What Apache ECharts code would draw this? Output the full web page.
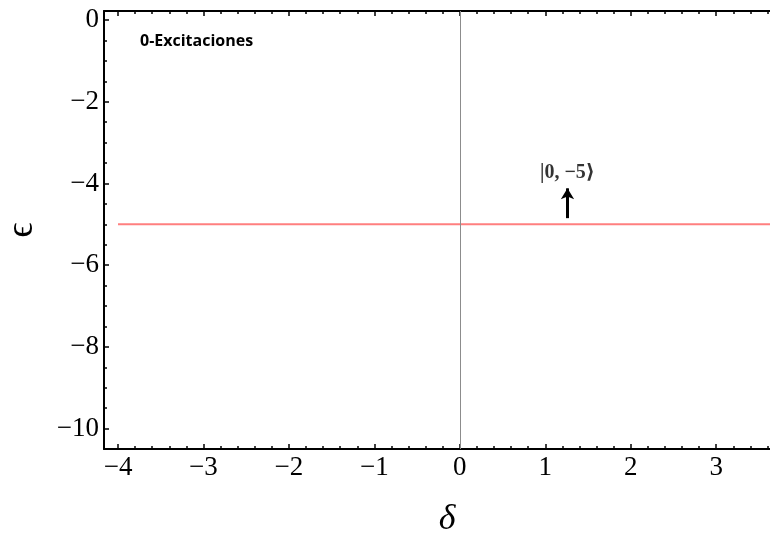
<!DOCTYPE html>
<html>
<head>
<meta charset="utf-8">
<script src="https://cdn.jsdelivr.net/npm/echarts@6/dist/echarts.min.js"></script>
<style>
html,body{margin:0;padding:0;background:#fff;}
#main{width:770px;height:533px;}
</style>
</head>
<body>
<div id="main"></div>
<script>
// ---- data ----
const deltaValues = [-4, 4];          // plot range of the level line
const energyValues = [-5, -5];        // ε for the |0,-5> state
const xMajorTicks = [-4, -3, -2, -1, 0, 1, 2, 3];
const yMajorTicks = [-10, -8, -6, -4, -2, 0];
const xMinorStep = 0.2;
const yMinorStep = 0.5;
const stateLabels = ['|0, −5⟩'];
const stateDelta = [1.26];
const arrowStart = [-4.85];
const arrowEnd = [-4.12];
const labelEnergy = [-3.74];
const xMin = -4.164, xMax = 3.63;
const yMin = -10.5, yMax = 0.22;

function range(a, b, step) {
  const out = [];
  const n = Math.round((b - a) / step);
  for (let i = 0; i <= n; i++) out.push(+(a + i * step).toFixed(4));
  return out;
}
const xMinorTicks = range(-4.2, 3.6, xMinorStep).filter(v => v > xMin && v < xMax);
const yMinorTicks = range(-10.5, 0, yMinorStep).filter(v => v > yMin && v < yMax);

const fmt = v => (v < 0 ? '−' + Math.abs(v) : String(v));
const serif = '"Liberation Serif", "DejaVu Serif", serif';

function xAx(pos, ticks, len, withLabels, showLine) {
  return {
    type: 'value', position: pos, min: xMin, max: xMax,
    splitLine: {show: false},
    axisLine: {show: showLine, onZero: false, lineStyle: {color: '#000', width: 2}},
    axisTick: {show: true, inside: true, length: len, customValues: ticks,
               lineStyle: {color: '#000', width: 1.5}},
    axisLabel: withLabels ? {show: true, customValues: xMajorTicks, formatter: fmt,
               fontFamily: serif, fontSize: 27, color: '#000', margin: 5} : {show: false},
    minorTick: {show: false}
  };
}
function yAx(pos, ticks, len, withLabels, showLine) {
  return {
    type: 'value', position: pos, min: yMin, max: yMax,
    splitLine: {show: false},
    axisLine: {show: showLine, onZero: false, lineStyle: {color: '#000', width: 2}},
    axisTick: {show: true, inside: true, length: len, customValues: ticks,
               lineStyle: {color: '#000', width: 1.5}},
    axisLabel: withLabels ? {show: true, customValues: yMajorTicks, formatter: fmt,
               fontFamily: serif, fontSize: 27, color: '#000', margin: 5} : {show: false},
    minorTick: {show: false}
  };
}

const xAxes = [
  xAx('bottom', xMajorTicks, 5, true, true),
  xAx('bottom', xMinorTicks, 3, false, false),
  xAx('top', xMajorTicks, 5, false, true),
  xAx('top', xMinorTicks, 3, false, false)
];
Object.assign(xAxes[0], {
  name: 'δ', nameLocation: 'middle', nameGap: 53,
  nameTextStyle: {fontFamily: serif, fontStyle: 'italic', fontSize: 36, color: '#000', padding: [0, 0, 0, 20]}
});
const yAxes = [
  yAx('left', yMajorTicks, 5, true, true),
  yAx('left', yMinorTicks, 3, false, false)
];
Object.assign(yAxes[0], {
  name: 'ϵ', nameLocation: 'middle', nameGap: 63, nameRotate: 90,
  nameTextStyle: {fontFamily: serif, fontSize: 38, color: '#000'}
});

const chart = echarts.init(document.getElementById('main'), null, {renderer: 'canvas'});
chart.setOption({
  animation: false,
  backgroundColor: '#fff',
  title: {
    text: '0-Excitaciones', left: 140, top: 33, padding: 0,
    textStyle: {fontFamily: '"Open Sans", sans-serif', fontWeight: 'bold', fontSize: 16, color: '#000'}
  },
  grid: {left: 104, top: 11, right: 0, bottom: 84, containLabel: false, outerBoundsMode: 'none'},
  xAxis: xAxes,
  yAxis: yAxes,
  series: [
    {
      type: 'line',
      data: deltaValues.map((d, i) => [d, energyValues[i]]),
      symbol: 'none',
      lineStyle: {color: '#ff7f7f', width: 2},
      clip: true,
      z: 3,
      markLine: {
        silent: true, symbol: 'none', animation: false,
        label: {show: false},
        lineStyle: {color: '#8c8c8c', width: 1, type: 'solid'},
        data: [{xAxis: 0}]
      }
    },
    {
      type: 'line',
      data: [],
      markLine: {
        silent: true, animation: false,
        symbol: ['none', 'arrow'], symbolSize: [10, 11],
        label: {show: false},
        lineStyle: {color: '#000', width: 3, type: 'solid'},
        data: stateDelta.map((d, i) => [{coord: [d, arrowStart[i]]}, {coord: [d, arrowEnd[i]]}])
      }
    },
    {
      type: 'scatter',
      symbolSize: 1,
      itemStyle: {color: 'rgba(0,0,0,0)'},
      data: stateDelta.map((d, i) => [d, labelEnergy[i]]),
      label: {
        show: true, position: 'inside',
        formatter: p => stateLabels[p.dataIndex],
        fontFamily: serif, fontWeight: 'bold', fontSize: 20, color: '#000'
      }
    }
  ]
});
</script>
</body>
</html>
